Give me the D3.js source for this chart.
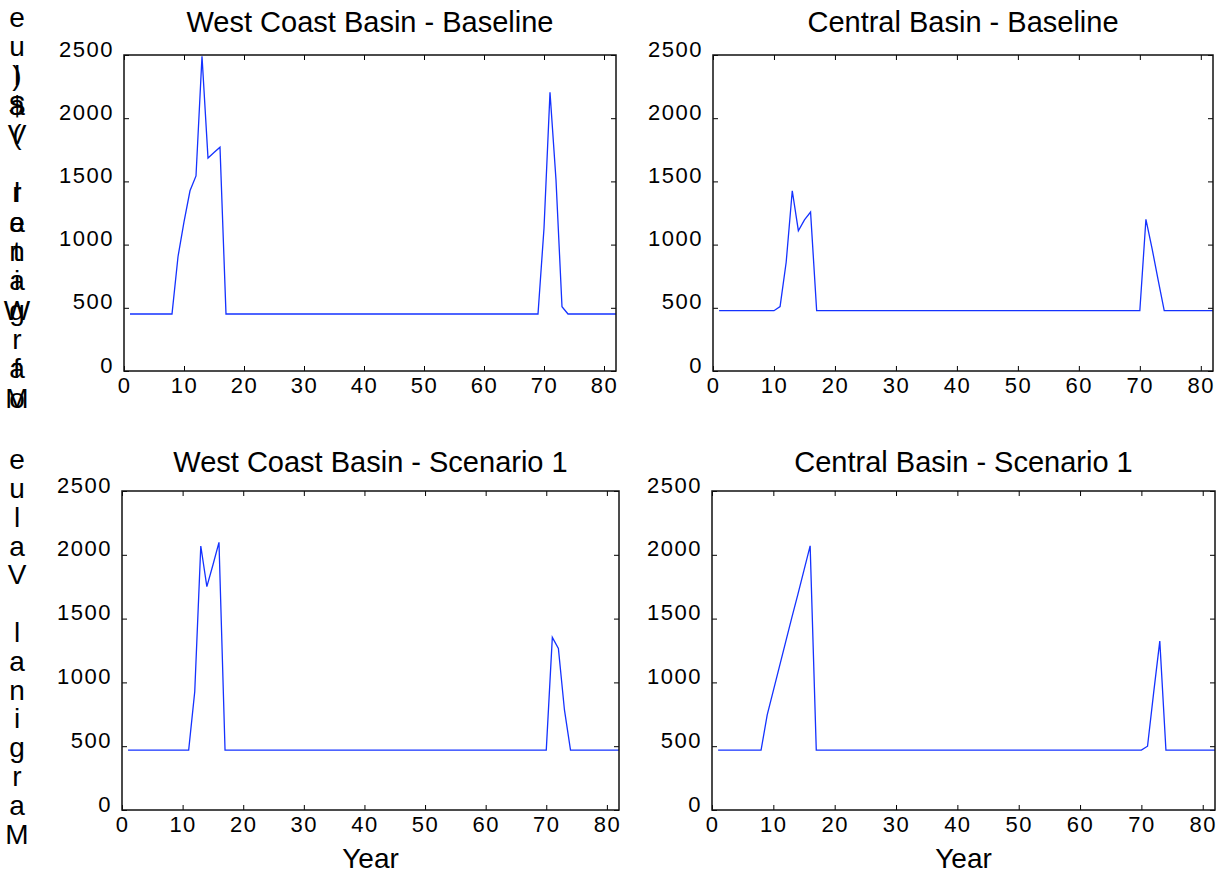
<!DOCTYPE html>
<html>
<head>
<meta charset="utf-8">
<script src="https://cdn.jsdelivr.net/npm/d3@7/dist/d3.min.js"></script>
<style>
  html, body { margin: 0; padding: 0; background: #fff; }
  svg { display: block; font-family: "Liberation Sans", Arial, Helvetica, sans-serif; }
</style>
</head>
<body>
<svg id="chart" width="1227" height="875"></svg>
<script>
// ---- Data (years 1..82) ----
const years = d3.range(1, 83);

const xTicks = [0, 10, 20, 30, 40, 50, 60, 70, 80];
const yTicks = [0, 500, 1000, 1500, 2000, 2500];

const titles = [
  "West Coast Basin - Baseline",
  "Central Basin - Baseline",
  "West Coast Basin - Scenario 1",
  "Central Basin - Scenario 1"
];

const yLabelLines = ["Marginal Value", "of Water ($)"];
const yLabelBottom = ["Marginal Value"];
const xLabel = "Year";

// West Coast Basin - Baseline
const wcbBaseline = [
  451, 451, 451, 451, 451, 451, 451, 451, 904, 1180,
  1426, 1543, 2490, 1685, 1728, 1770, 451, 451, 451, 451,
  451, 451, 451, 451, 451, 451, 451, 451, 451, 451,
  451, 451, 451, 451, 451, 451, 451, 451, 451, 451,
  451, 451, 451, 451, 451, 451, 451, 451, 451, 451,
  451, 451, 451, 451, 451, 451, 451, 451, 451, 451,
  451, 451, 451, 451, 451, 451, 451, 451, 451, 1129,
  2205, 1511, 509, 451, 451, 451, 451, 451, 451, 451,
  451, 451
];

// Central Basin - Baseline
const cbBaseline = [
  477, 477, 477, 477, 477, 477, 477, 477, 477, 477,
  509, 860, 1426, 1110, 1195, 1258, 477, 477, 477, 477,
  477, 477, 477, 477, 477, 477, 477, 477, 477, 477,
  477, 477, 477, 477, 477, 477, 477, 477, 477, 477,
  477, 477, 477, 477, 477, 477, 477, 477, 477, 477,
  477, 477, 477, 477, 477, 477, 477, 477, 477, 477,
  477, 477, 477, 477, 477, 477, 477, 477, 477, 477,
  1200, 971, 720, 477, 477, 477, 477, 477, 477, 477,
  477, 477
];

// West Coast Basin - Scenario 1
const wcbScenario1 = [
  470, 470, 470, 470, 470, 470, 470, 470, 470, 470,
  470, 927, 2069, 1750, 1920, 2098, 470, 470, 470, 470,
  470, 470, 470, 470, 470, 470, 470, 470, 470, 470,
  470, 470, 470, 470, 470, 470, 470, 470, 470, 470,
  470, 470, 470, 470, 470, 470, 470, 470, 470, 470,
  470, 470, 470, 470, 470, 470, 470, 470, 470, 470,
  470, 470, 470, 470, 470, 470, 470, 470, 470, 470,
  1353, 1267, 784, 470, 470, 470, 470, 470, 470, 470,
  470, 470
];

// Central Basin - Scenario 1
const cbScenario1 = [
  470, 470, 470, 470, 470, 470, 470, 470, 745, 935,
  1125, 1315, 1505, 1690, 1880, 2070, 470, 470, 470, 470,
  470, 470, 470, 470, 470, 470, 470, 470, 470, 470,
  470, 470, 470, 470, 470, 470, 470, 470, 470, 470,
  470, 470, 470, 470, 470, 470, 470, 470, 470, 470,
  470, 470, 470, 470, 470, 470, 470, 470, 470, 470,
  470, 470, 470, 470, 470, 470, 470, 470, 470, 470,
  500, 920, 1324, 470, 470, 470, 470, 470, 470, 470,
  470, 470
];

const seriesList = [wcbBaseline, cbBaseline, wcbScenario1, cbScenario1];

// ---- Layout ----
const panels = [
  { x0: 124, x1: 616, yTop: 55,  yBot: 371, titleY: 32,  xlab: false },
  { x0: 713, x1: 1213, yTop: 55, yBot: 371, titleY: 32,  xlab: false },
  { x0: 122, x1: 619, yTop: 491, yBot: 810, titleY: 472, xlab: true },
  { x0: 712, x1: 1215, yTop: 491, yBot: 810, titleY: 472, xlab: true }
];

const svg = d3.select("#chart");
const lineColor = "#1432ff";
const tickFont = 22;
const fmt = d3.format("d");

panels.forEach((p, i) => {
  const x = d3.scaleLinear().domain([0, 82]).range([p.x0, p.x1]);
  const y = d3.scaleLinear().domain([0, 2500]).range([p.yBot, p.yTop]);
  const g = svg.append("g");

  // line
  const line = d3.line().x((d, j) => x(years[j])).y(d => y(d));
  g.append("path")
    .datum(seriesList[i])
    .attr("fill", "none")
    .attr("stroke", lineColor)
    .attr("stroke-width", 1.3)
    .attr("stroke-linejoin", "miter")
    .attr("d", line);

  // bottom axis
  const gb = g.append("g").attr("transform", `translate(0,${p.yBot})`)
    .call(d3.axisBottom(x).tickValues(xTicks).tickFormat(fmt).tickSizeInner(-5).tickSizeOuter(0).tickPadding(6));
  gb.selectAll("text").attr("font-size", tickFont).attr("letter-spacing", "1.5px")
    .attr("fill", "#000").attr("font-family", "Liberation Sans, Arial, sans-serif");

  // top axis (ticks only)
  const gt = g.append("g").attr("transform", `translate(0,${p.yTop})`)
    .call(d3.axisTop(x).tickValues(xTicks).tickSizeInner(-5).tickSizeOuter(0).tickFormat(""));

  // left axis
  const gl = g.append("g").attr("transform", `translate(${p.x0},0)`)
    .call(d3.axisLeft(y).tickValues(yTicks).tickFormat(fmt).tickSizeInner(-5).tickSizeOuter(0).tickPadding(10));
  gl.selectAll("text").attr("font-size", tickFont).attr("letter-spacing", "1.5px")
    .attr("dy", "1px").attr("fill", "#000").attr("font-family", "Liberation Sans, Arial, sans-serif");

  // right axis (ticks only)
  const gr = g.append("g").attr("transform", `translate(${p.x1},0)`)
    .call(d3.axisRight(y).tickValues(yTicks).tickSizeInner(-5).tickSizeOuter(0).tickFormat(""));

  [gb, gt, gl, gr].forEach(a => {
    a.select(".domain").remove();
    a.selectAll("line").attr("stroke", "#000").attr("stroke-width", 1);
  });

  // frame
  g.append("rect")
    .attr("x", p.x0).attr("y", p.yTop)
    .attr("width", p.x1 - p.x0).attr("height", p.yBot - p.yTop)
    .attr("fill", "none").attr("stroke", "#111").attr("stroke-width", 1.5);

  // title
  g.append("text")
    .attr("x", (p.x0 + p.x1) / 2).attr("y", p.titleY)
    .attr("text-anchor", "middle")
    .attr("font-size", 29)
    .attr("fill", "#000")
    .text(titles[i]);

  if (p.xlab) {
    g.append("text")
      .attr("x", (p.x0 + p.x1) / 2).attr("y", 868)
      .attr("text-anchor", "middle")
      .attr("font-size", 28)
      .attr("fill", "#000")
      .text(xLabel);
  }
});

// stacked-glyph y labels (each line starts at the bottom and climbs)
function stackedLabel(lines, xc, yStart, step) {
  const g = svg.append("g");
  lines.forEach(str => {
    Array.from(str).forEach((ch, k) => {
      if (ch === " ") return;
      g.append("text")
        .attr("x", xc).attr("y", yStart - k * step)
        .attr("text-anchor", "middle")
        .attr("dominant-baseline", "central")
        .attr("font-size", 28)
        .attr("fill", "#000")
        .text(ch);
    });
  });
}
stackedLabel(yLabelLines, 17, 398, 29.3);
stackedLabel(yLabelBottom, 17, 834, 28.8);
</script>
</body>
</html>
